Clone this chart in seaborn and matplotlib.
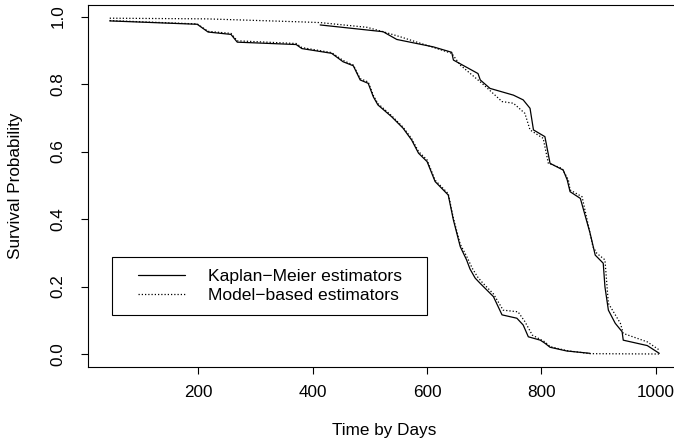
import numpy as np
import pandas as pd
import matplotlib
matplotlib.use("Agg")
import matplotlib.pyplot as plt
from matplotlib.lines import Line2D
from matplotlib.legend_handler import HandlerLine2D
import seaborn as sns

# ---------------- data ----------------
# group 1 (earlier failures), Kaplan-Meier
t1_km = [45, 198, 217, 257, 268, 371, 381, 433, 453, 471, 483, 497, 506, 514, 538,
         558, 573, 585, 600, 614, 637, 646, 658, 669, 675, 684, 693, 716, 731, 757,
         768, 777, 798, 806, 815, 844, 885]
s1_km = [0.987, 0.977, 0.954, 0.947, 0.924, 0.917, 0.905, 0.891, 0.866, 0.854, 0.812,
         0.802, 0.762, 0.738, 0.703, 0.669, 0.634, 0.595, 0.570, 0.511, 0.471, 0.397,
         0.318, 0.279, 0.252, 0.225, 0.209, 0.170, 0.116, 0.106, 0.086, 0.051, 0.041,
         0.032, 0.020, 0.009, 0.002]
# group 1, model based
t1_mb = [45, 198, 217, 257, 268, 371, 381, 433, 453, 471, 483, 497, 506, 514, 538,
         558, 573, 585, 600, 614, 637, 646, 658, 669, 679, 688, 696, 716, 733, 759,
         771, 784, 806, 815, 844, 885, 1006]
s1_mb = [0.988, 0.978, 0.956, 0.950, 0.928, 0.920, 0.908, 0.893, 0.870, 0.856, 0.816,
         0.806, 0.766, 0.742, 0.706, 0.672, 0.638, 0.600, 0.575, 0.515, 0.475, 0.402,
         0.325, 0.290, 0.254, 0.229, 0.213, 0.178, 0.130, 0.125, 0.096, 0.056, 0.036,
         0.022, 0.010, 0.001, 0.0]
# group 2 (later failures), Kaplan-Meier
t2_km = [413, 523, 547, 611, 643, 646, 689, 693, 710, 751, 768, 780, 786, 806, 815,
         838, 845, 850, 868, 885, 894, 908, 911, 917, 929, 941, 943, 985, 1006]
s2_km = [0.975, 0.955, 0.932, 0.910, 0.894, 0.871, 0.831, 0.812, 0.787, 0.767, 0.753,
         0.728, 0.664, 0.644, 0.565, 0.545, 0.516, 0.481, 0.461, 0.358, 0.293, 0.269,
         0.199, 0.130, 0.091, 0.066, 0.041, 0.025, 0.002]
# group 2, model based
t2_mb = [45, 215, 381, 413, 495, 523, 553, 608, 643, 658, 696, 722, 731, 751, 771,
         780, 803, 812, 836, 847, 850, 871, 890, 897, 911, 917, 938, 943, 985, 1006]
s2_mb = [0.995, 0.993, 0.984, 0.982, 0.968, 0.955, 0.940, 0.910, 0.891, 0.856, 0.802,
         0.762, 0.748, 0.743, 0.713, 0.664, 0.639, 0.565, 0.550, 0.516, 0.486, 0.466,
         0.318, 0.298, 0.279, 0.150, 0.091, 0.061, 0.036, 0.012]

x_ticks = [200, 400, 600, 800, 1000]
y_ticks = [0.0, 0.2, 0.4, 0.6, 0.8, 1.0]
legend_labels = ["Kaplan\u2212Meier estimators", "Model\u2212based estimators"]

# ---------------- long table for seaborn ----------------
frames = []
for name, t, s, est in [("g1_km", t1_km, s1_km, "KM"), ("g1_mb", t1_mb, s1_mb, "MB"),
                        ("g2_km", t2_km, s2_km, "KM"), ("g2_mb", t2_mb, s2_mb, "MB")]:
    frames.append(pd.DataFrame({"time": t, "surv": s, "curve": name, "est": est}))
df = pd.concat(frames, ignore_index=True)

# ---------------- styling ----------------
sns.set_theme(style="white")
plt.rcParams["font.family"] = ["Liberation Sans", "DejaVu Sans"]
plt.rcParams.update({
    "axes.edgecolor": "black",
    "axes.linewidth": 0.8,
    "xtick.bottom": True,
    "ytick.left": True,
    "xtick.direction": "out",
    "ytick.direction": "out",
    "xtick.major.size": 5,
    "ytick.major.size": 5,
    "xtick.major.width": 0.8,
    "ytick.major.width": 0.8,
    "xtick.color": "black",
    "ytick.color": "black",
    "text.color": "black",
    "axes.labelcolor": "black",
})

FS = 12.3
DOT = (0, (1, 1.6))

fig = plt.figure(figsize=(6.74, 4.44), dpi=100)
W, H = 674, 444
ax = fig.add_axes([88 / W, 77 / H, (681 - 88) / W, (367 - 4.7) / H])

for est in ["KM", "MB"]:
    sub = df[df["est"] == est]
    n_before = len(ax.get_lines())
    sns.lineplot(data=sub, x="time", y="surv", units="curve", estimator=None,
                 sort=False, color="black", linewidth=0.9, ax=ax, legend=False)
    if est == "MB":
        for ln in ax.get_lines()[n_before:]:
            ln.set_linestyle(DOT)

ax.set_xlim(7, 1044)
ax.set_ylim(-0.0385, 1.035)
ax.set_xticks(x_ticks)
ax.set_xticklabels([str(v) for v in x_ticks], fontsize=FS)
ax.set_yticks(y_ticks)
ax.set_yticklabels([f"{v:.1f}" for v in y_ticks], fontsize=FS, rotation=90, va="center")
ax.tick_params(axis="x", pad=8)
ax.tick_params(axis="y", pad=11)

ax.set_xlabel("Time by Days", fontsize=FS, va="center")
ax.set_ylabel("Survival Probability", fontsize=FS, va="center")
ax.xaxis.set_label_coords(0.5, (367 - 430) / 362.3)
ax.yaxis.set_label_coords((15 - 88) / 593, 0.5)

for sp in ax.spines.values():
    sp.set_visible(True)
    sp.set_color("black")
    sp.set_linewidth(0.8)
ax.spines["right"].set_visible(False)

LFS = 12.6
h_km = Line2D([], [], color="black", linewidth=0.9, linestyle="-")
h_mb = Line2D([], [], color="black", linewidth=0.9, linestyle=DOT)
x0 = (112 - 88) / 593
top = (367 - 257) / 362.3
wid = (427 - 112) / 593
leg = ax.legend([h_km, h_mb], legend_labels, loc="upper left",
                bbox_to_anchor=(x0, top - 0.17, wid, 0.17), mode="expand",
                borderaxespad=0, fontsize=LFS, frameon=True, fancybox=False,
                framealpha=1, edgecolor="black", borderpad=0.7,
                handlelength=3.46, handletextpad=1.31, labelspacing=0.2,
                handler_map={Line2D: HandlerLine2D(xpad=0.77)})
leg.get_frame().set_linewidth(0.8)

fig.savefig("out.png", dpi=100)
